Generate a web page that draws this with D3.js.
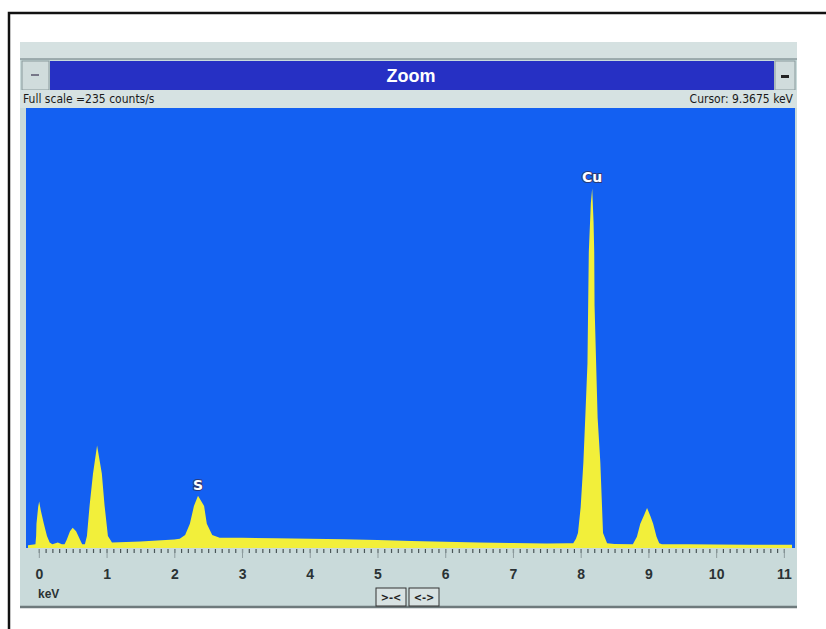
<!DOCTYPE html>
<html>
<head>
<meta charset="utf-8">
<script src="https://cdn.jsdelivr.net/npm/d3@7"></script>
<style>
body{margin:0;background:#fff}
text{font-family:"Liberation Sans Narrow","DejaVu Sans Condensed","Liberation Sans",sans-serif;font-stretch:condensed}
</style>
</head>
<body>
<div id="chart"></div>
<script>
// spectrum (keV, counts/s)
var energies = [-0.16,-0.05,-0.04,-0.035,-0.01,0.005,0.03,0.074,0.12,0.16,0.2,0.28,0.34,
	0.38,0.41,0.46,0.50,0.55,0.61,0.64,
	0.68,0.71,0.75,0.80,0.86,0.93,0.97,1.02,1.08,
	1.5,2.0,2.08,2.16,2.23,2.29,2.35,2.44,2.48,2.56,2.67,
	3.0,3.5,4.0,4.5,5.0,5.5,6.0,6.5,7.0,7.5,7.8,
	7.89,7.93,7.96,8.00,8.04,8.07,8.10,8.12,8.15,8.17,8.19,8.20,8.205,8.25,8.29,8.33,8.39,8.5,
	8.77,8.83,8.88,8.94,8.98,9.03,9.07,9.12,9.16,9.20,
	9.6,10.0,10.5,11.12]
var counts = [1.5,2,6.5,13,22,25,20,13,6.5,3,2,3,2,
	2,4.3,9,10.8,9,4.3,2,
	2,6.5,23,40,55,40,23,6.5,3,
	3.5,4.5,5,7,13,22.5,28,22.5,13,7,5.5,
	5.5,5.2,5,4.7,4.3,3.8,3.4,3,2.7,2.4,2.6,
	2.6,5,8,22,46,72,99,159,185,193,175,159,130,70,46,8,2.6,2.2,
	2,6,13,18,21.5,17,13,6,2.6,2,
	2,1.9,1.8,1.8]
var tickLabels = [0,1,2,3,4,5,6,7,8,9,10,11]
var peakNames = ["S","Cu"]
var peakEnergies = [2.35,8.17]
var peakCounts = [28,193]
var fullScale = 235
var cursorKeV = "9.3675"

var w = 826
var h = 629

var svg = d3.select("#chart").append("svg").attr("width",w).attr("height",h)

// photo frame
svg.append("path").attr("d","M9,640 L9,13 L840,13").attr("fill","none").attr("stroke","#111").attr("stroke-width",2.5)

// window body
svg.append("rect").attr("x",20).attr("y",42).attr("width",777).attr("height",566).attr("fill","#c9dada")
svg.append("rect").attr("x",20).attr("y",42).attr("width",777).attr("height",17).attr("fill","#d5e1e1")
svg.append("line").attr("x1",20).attr("x2",797).attr("y1",59).attr("y2",59).attr("stroke","#8a9a9c").attr("stroke-width",1.5)
svg.append("line").attr("x1",20).attr("x2",797).attr("y1",607).attr("y2",607).attr("stroke","#6e7a7c").attr("stroke-width",2.5)

// title bar
svg.append("rect").attr("x",50).attr("y",61).attr("width",724).attr("height",29).attr("fill","#2630c4")
svg.append("rect").attr("x",22).attr("y",61).attr("width",27).attr("height",29).attr("fill","#d0dcdc").attr("stroke","#8a9a9c")
svg.append("rect").attr("x",775).attr("y",61).attr("width",20).attr("height",29).attr("fill","#d0dcdc").attr("stroke","#8a9a9c")
svg.append("rect").attr("x",31).attr("y",74).attr("width",8).attr("height",2).attr("fill","#778")
svg.append("rect").attr("x",781).attr("y",75).attr("width",8).attr("height",3).attr("fill","#222")
svg.append("text").text("Zoom").attr("x",411).attr("y",82).attr("text-anchor","middle")
	.style("font-family","Liberation Sans, sans-serif").style("font-stretch","normal").style("font-weight",700).style("font-size","18px").attr("fill","#fff")

// status line
svg.append("rect").attr("x",20).attr("y",90).attr("width",777).attr("height",18).attr("fill","#d6e2e2")
svg.append("text").text("Full scale =" + fullScale + "  counts/s").attr("x",23).attr("y",103)
	.style("font-size","12px").attr("fill","#1a1a1a")
svg.append("text").text("Cursor: " + cursorKeV + " keV").attr("x",793).attr("y",103).attr("text-anchor","end")
	.style("font-size","12px").attr("fill","#1a1a1a")

// scales
var x = d3.scaleLinear().domain([-0.16,11.12]).range([28,792])
var y = d3.scaleLinear().domain([0,fullScale]).range([548,110])

// plot area
svg.append("rect").attr("x",26).attr("y",108).attr("width",769).attr("height",440).attr("fill","#1360f2")

var spectrum = energies.map(function(e,i){ return [e,counts[i]] })
var area = d3.area()
	.x(function(d){ return x(d[0]) })
	.y0(y(0))
	.y1(function(d){ return y(d[1]) })
svg.append("path").datum(spectrum).attr("d",area).attr("fill","#f2ef3a")

// peak labels
svg.selectAll(".peakLabel")
	.data(peakNames)
	.enter()
	.append("text")
	.attr("class","peakLabel")
	.text(function(d){ return d })
	.attr("x",function(d,i){ return x(peakEnergies[i]) })
	.attr("y",function(d,i){ return y(peakCounts[i])-6 })
	.attr("text-anchor","middle")
	.style("font-family","DejaVu Sans, sans-serif")
	.style("font-stretch","normal")
	.style("font-size","14px")
	.style("font-weight","bold")
	.style("paint-order","stroke")
	.attr("fill","#fff")
	.attr("stroke","#2a3a78")
	.attr("stroke-width",2)

// axis
var minor = d3.axisBottom(x).tickValues(d3.range(0,111).map(function(i){ return i/10 })).tickSize(4).tickFormat("")
var gMinor = svg.append("g").attr("transform","translate(0,549)").call(minor)
gMinor.select(".domain").remove()
gMinor.selectAll(".tick line").attr("stroke","#4a5658").attr("stroke-width",1.2)

var major = d3.axisBottom(x).tickValues(tickLabels).tickSize(9).tickPadding(11).tickFormat(d3.format("d"))
var gMajor = svg.append("g").attr("transform","translate(0,549)").call(major)
gMajor.select(".domain").remove()
gMajor.selectAll(".tick line").attr("stroke","#8e9c9e").attr("stroke-width",1)
gMajor.selectAll(".tick text").style("font-family","Liberation Sans, sans-serif").style("font-stretch","normal")
	.style("font-size","14px").style("font-weight",700).attr("fill","#2a3234")

svg.append("text").text("keV").attr("x",38).attr("y",598)
	.style("font-family","Liberation Sans, sans-serif").style("font-stretch","normal").style("font-size","12px").style("font-weight",700).attr("fill","#2a3234")

// zoom buttons
var buttons = [">-<","<->"]
svg.selectAll(".btn")
	.data(buttons)
	.enter()
	.append("rect")
	.attr("class","btn")
	.attr("x",function(d,i){ return 376+i*33 })
	.attr("y",588)
	.attr("width",30)
	.attr("height",18)
	.attr("fill","#d8e2e2")
	.attr("stroke","#333")
svg.selectAll(".btnText")
	.data(buttons)
	.enter()
	.append("text")
	.attr("class","btnText")
	.text(function(d){ return d })
	.attr("x",function(d,i){ return 391+i*33 })
	.attr("y",601)
	.attr("text-anchor","middle")
	.style("font-size","11px")
	.style("font-weight",700)
	.attr("fill","#222")
</script>
</body>
</html>
